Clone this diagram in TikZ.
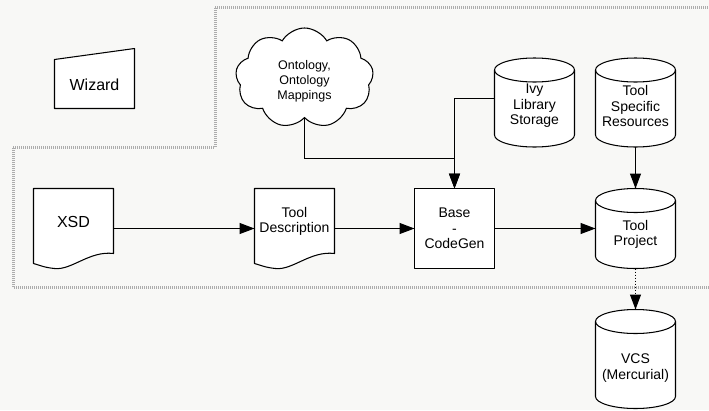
\documentclass[tikz,border=0pt]{standalone}
\usepackage{fontspec}
\setmainfont{Liberation Sans}
\usetikzlibrary{shapes.symbols,arrows.meta,calc}
\pgfdeclarelayer{bg}
\pgfdeclarelayer{background}
\pgfsetlayers{bg,background,main}
\definecolor{paper}{RGB}{248,248,246}
\definecolor{zone}{RGB}{172,172,172}
\tikzset{
  txt/.style={font=\fontsize{14}{15.5}\selectfont, align=center, text=black},
  bigtxt/.style={font=\fontsize{16}{17}\selectfont, align=center, text=black},
  cloudtxt/.style={font=\fontsize{12.5}{15}\selectfont, align=center, text=black},
  box/.style={minimum width=#1, inner sep=0pt, outer sep=0pt},
  outline/.style={draw=black, line width=1.05pt, fill=white, line join=round},
  arr/.style={draw=black, line width=1.05pt, -{Triangle[length=15pt,width=11pt]}},
  zonestyle/.style={draw=zone, line width=3pt, dash pattern=on 1pt off 1pt},
}
\newcommand\cylout[1]{%
  \path[outline] ([yshift=-12pt]#1.north west) -- ([yshift=12pt]#1.south west)
     arc[start angle=180,end angle=360,x radius=40pt,y radius=12pt]
     -- ([yshift=-12pt]#1.north east)
     arc[start angle=0,end angle=180,x radius=40pt,y radius=12pt] -- cycle;
  \draw[line width=1.05pt] ([yshift=-12pt]#1.north west)
     arc[start angle=180,end angle=360,x radius=40pt,y radius=12pt];}
\newcommand\docout[1]{%
  \path[outline] (#1.north west) -- (#1.north east) -- ([shift={(0,-15)}]#1.south east)
     .. controls ([shift={(-24,-18)}]#1.south east) and ([shift={(-42,2)}]#1.south east) ..
     ([shift={(-59,0)}]#1.south east)
     .. controls ([shift={(-69,-1)}]#1.south east) and ([shift={(7,-3)}]#1.south west) ..
     ([shift={(0,-5)}]#1.south west) -- cycle;}
\begin{document}
\begin{tikzpicture}[x=1pt,y=-1pt]
\useasboundingbox (0,0) rectangle (709,410);
% nodes
\node[box=80pt, minimum height=60pt, label={[bigtxt,yshift=-6pt]center:Wizard}] (wiz) at (94.5,78.5) {};
\node[cloud, cloud puffs=9, cloud puff arc=120, minimum width=138pt, minimum height=100pt,
      inner sep=0pt, outer sep=0pt, draw=black, line width=1.05pt, fill=white,
      label={[cloudtxt,yshift=-3pt]center:{Ontology,\\Ontology\\Mappings}}] (onto) at (304.5,78) {};
\node[box=80pt, minimum height=89pt, label={[txt,yshift=-3.5pt]center:{Ivy\\Library\\Storage}}] (ivy) at (534.5,102.5) {};
\node[box=80pt, minimum height=89pt, label={[txt,yshift=-3.5pt]center:{Tool\\Specific\\Resources}}] (tsr) at (635.5,102.5) {};
\node[box=80pt, minimum height=80pt, label={[bigtxt,yshift=7pt]center:XSD}] (xsd) at (73.5,228.5) {};
\node[box=80pt, minimum height=80pt, label={[txt,yshift=7pt]center:{Tool\\Description}}] (td) at (294.5,228.5) {};
\node[box=80pt, minimum height=80pt, label={[txt]center:{Base\\-\\CodeGen}}] (cg) at (454.5,228.5) {};
\node[box=80pt, minimum height=80pt, label={[txt,yshift=-6pt]center:{Tool\\Project}}] (tp) at (635.5,228.5) {};
\node[box=80pt, minimum height=99pt, label={[txt,yshift=-9pt]center:{VCS\\(Mercurial)}}] (vcs) at (635.5,359) {};
% outlines
\begin{pgfonlayer}{bg}
  \fill[paper] (0,0) rectangle (709,410);
  \draw[zonestyle] (709,287) -- (13,287) -- (13,147) -- (215,147) -- (215,7) -- (709,7);
\end{pgfonlayer}
\begin{pgfonlayer}{background}
  \path[outline] (wiz.south west) -- ([yshift=-11pt]wiz.north west) -- (wiz.north east) -- (wiz.south east) -- cycle;
  \path[outline] (cg.south west) rectangle (cg.north east);
  \cylout{ivy}
  \cylout{tsr}
  \cylout{tp}
  \cylout{vcs}
  \docout{xsd}
  \docout{td}
\end{pgfonlayer}
% connectors
\draw[arr] (xsd.east) -- (td.west);
\draw[arr] (td.east) -- (cg.west);
\draw[arr] (cg.east) -- (tp.west);
\draw[arr] (onto.south) |- ($(cg.north)+(0,-30)$) -- (cg.north);
\draw[arr] ([yshift=4pt]ivy.west) -| (cg.north);
\draw[arr] (tsr.south) -- (tp.north);
\draw[arr, dash pattern=on 1.5pt off 1.5pt] (tp.south) -- (vcs.north);
\end{tikzpicture}
\end{document}
